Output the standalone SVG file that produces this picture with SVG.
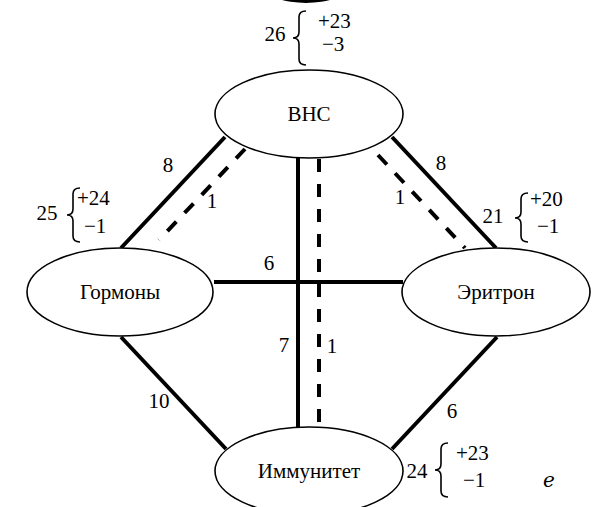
<svg xmlns="http://www.w3.org/2000/svg" width="592" height="507" viewBox="0 0 592 507">
  <defs>
    <style>
      .node { fill: #fff; stroke: #000; stroke-width: 1.6; }
      .edge { stroke: #000; stroke-width: 4; fill: none; }
      .dash { stroke-dasharray: 13 12; }
      .brace { stroke: #000; stroke-width: 1.6; fill: none; }
      .t { font-family: 'Liberation Serif', 'Times New Roman', serif; font-size: 21px; fill: #000; }
      .m { text-anchor: middle; }
    </style>
  </defs>
  <rect width="592" height="507" fill="#fff"/>
  <!-- partly visible dark shape at the top edge -->
  <ellipse cx="306" cy="-12" rx="40" ry="15" fill="#000"/>

  <g id="connectors">
    <line class="edge" x1="225" y1="137" x2="121" y2="248"/>
    <line class="edge dash" x1="245" y1="149" x2="159" y2="240"/>
    <line class="edge" x1="392" y1="137" x2="496" y2="248"/>
    <line class="edge dash" x1="378" y1="155" x2="465" y2="248"/>
    <line class="edge" x1="298" y1="158" x2="298" y2="427"/>
    <line class="edge dash" x1="319" y1="159" x2="319" y2="427"/>
    <line class="edge" x1="214" y1="282" x2="403" y2="282"/>
    <line class="edge" x1="121" y1="337" x2="226" y2="449"/>
    <line class="edge" x1="497" y1="337" x2="392" y2="449"/>
    <text class="t m" style="font-family:'Liberation Serif',serif" x="168" y="172">8</text>
    <text class="t m" style="font-family:'Liberation Serif',serif" x="212" y="208">1</text>
    <text class="t m" style="font-family:'Liberation Serif',serif" x="441" y="170">8</text>
    <text class="t m" style="font-family:'Liberation Serif',serif" x="400" y="204">1</text>
    <text class="t m" style="font-family:'Liberation Serif',serif" x="269" y="270">6</text>
    <text class="t m" style="font-family:'Liberation Serif',serif" x="284" y="352">7</text>
    <text class="t m" style="font-family:'Liberation Serif',serif" x="332" y="353">1</text>
    <text class="t m" style="font-family:'Liberation Serif',serif" x="159" y="408">10</text>
    <text class="t m" style="font-family:'Liberation Serif',serif" x="452" y="418">6</text>
  </g>

  <g id="vns">
    <ellipse class="node" cx="309" cy="114" rx="94" ry="44"/>
    <text class="t m" style="font-family:'Liberation Serif',serif" x="309" y="121">ВНС</text>
    <text class="t m" style="font-family:'Liberation Serif',serif" x="275" y="41">26</text>
    <path class="brace" d="M306 11 Q299 11 299 17 L299 32 Q299 38 293 38 Q299 38 299 44 L299 59 Q299 65 306 65"/>
    <text class="t" style="font-family:'Liberation Serif',serif" x="318" y="28">+23</text>
    <text class="t" style="font-family:'Liberation Serif',serif" x="322" y="51">−3</text>
  </g>

  <g id="gormony">
    <ellipse class="node" cx="120" cy="292" rx="93" ry="44"/>
    <text class="t m" style="font-family:'Liberation Serif',serif" x="120" y="299">Гормоны</text>
    <text class="t m" style="font-family:'Liberation Serif',serif" x="47" y="220">25</text>
    <path class="brace" d="M80 188 Q73 188 73 194 L73 209 Q73 215 67 215 Q73 215 73 221 L73 236 Q73 242 80 242"/>
    <text class="t" style="font-family:'Liberation Serif',serif" x="77" y="205">+24</text>
    <text class="t" style="font-family:'Liberation Serif',serif" x="84" y="233">−1</text>
  </g>

  <g id="eritron">
    <ellipse class="node" cx="496" cy="292" rx="94" ry="44"/>
    <text class="t m" style="font-family:'Liberation Serif',serif" x="496" y="299">Эритрон</text>
    <text class="t m" style="font-family:'Liberation Serif',serif" x="493" y="223">21</text>
    <path class="brace" d="M528 193 Q521 193 521 199 L521 212 Q521 218 515 218 Q521 218 521 224 L521 236 Q521 242 528 242"/>
    <text class="t" style="font-family:'Liberation Serif',serif" x="530" y="206">+20</text>
    <text class="t" style="font-family:'Liberation Serif',serif" x="537" y="233">−1</text>
  </g>

  <g id="immunitet">
    <ellipse class="node" cx="309" cy="471" rx="94" ry="44"/>
    <text class="t m" style="font-family:'Liberation Serif',serif" x="309" y="478">Иммунитет</text>
    <text class="t m" style="font-family:'Liberation Serif',serif" x="417" y="478">24</text>
    <path class="brace" d="M448 443 Q441 443 441 449 L441 464 Q441 470 435 470 Q441 470 441 476 L441 491 Q441 497 448 497"/>
    <text class="t" style="font-family:'Liberation Serif',serif" x="456" y="460">+23</text>
    <text class="t" style="font-family:'Liberation Serif',serif" x="463" y="487">−1</text>
    <text class="t" style="font-family:'DejaVu Serif',serif; font-style:italic; font-size:20px" x="543" y="487">e</text>
  </g>
</svg>
